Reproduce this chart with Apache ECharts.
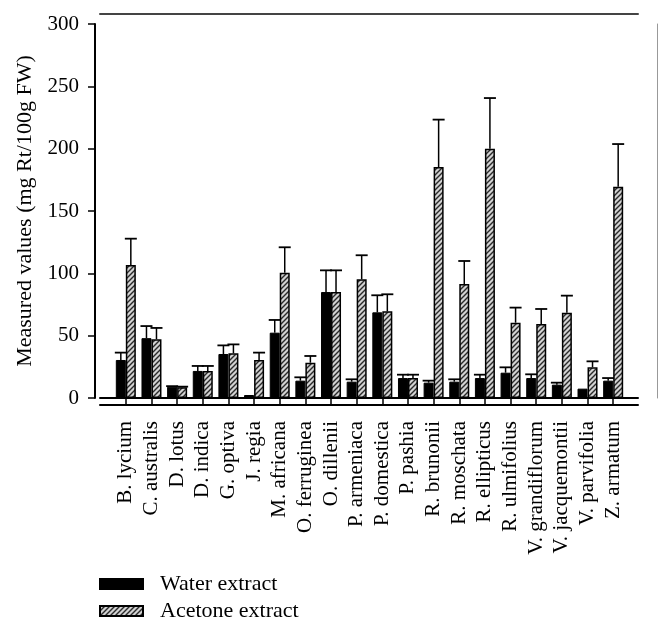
<!DOCTYPE html>
<html>
<head>
<meta charset="utf-8">
<script src="https://cdn.jsdelivr.net/npm/echarts@6/dist/echarts.min.js"></script>
<style>html,body{margin:0;padding:0;background:#fff;}#chart{width:672px;height:631px;}</style>
</head>
<body>
<div id="chart"></div>
<script>
const categories = ['B. lycium','C. australis','D. lotus','D. indica','G. optiva','J. regia','M. africana','O. ferruginea','O. dillenii','P. armeniaca','P. domestica','P. pashia','R. brunonii','R. moschata','R. ellipticus','R. ulmifolius','V. grandiflorum','V. jacquemontii','V. parvifolia','Z. armatum'];
const waterValues = [30.5, 48, 9, 21.7, 35.3, 2.4, 52.4, 13.9, 85, 13.1, 68.7, 16, 12.3, 13.1, 16, 20.3, 16, 10.7, 7.5, 13.9];
const waterErrors = [5.9, 9.7, 0.5, 4, 6.9, 0, 10.2, 2.7, 17.4, 1.9, 13.7, 2.7, 1.6, 1.9, 2.7, 4.3, 3, 1.6, 0, 2.1];
const acetoneValues = [106.7, 47.1, 8.6, 21.7, 35.8, 30.5, 100.5, 28.3, 85, 95.2, 69.5, 16, 185.3, 91.4, 200, 60.4, 59.4, 68.4, 24.6, 169.5];
const acetoneErrors = [21.1, 9.1, 0.5, 4, 7.2, 5.9, 20.4, 5.4, 17.4, 19.3, 13.7, 2.7, 38, 18.5, 40.6, 12.1, 12, 13.7, 4.8, 34.2];
const yTicks = [0, 50, 100, 150, 200, 250, 300];

const FONT = '"Liberation Serif", "DejaVu Serif", serif';

// hatch pattern
const tile = document.createElement('canvas');
tile.width = 5; tile.height = 5;
const tc = tile.getContext('2d');
tc.fillStyle = '#d2d2d2';
tc.fillRect(0, 0, 5, 5);
tc.strokeStyle = '#2a2a2a';
tc.lineWidth = 1.4;
tc.beginPath();
tc.moveTo(-1, 1); tc.lineTo(1, -1);
tc.moveTo(0, 5); tc.lineTo(5, 0);
tc.moveTo(4, 6); tc.lineTo(6, 4);
tc.stroke();
const hatch = { image: tile, repeat: 'repeat' };

function errData(vals, errs) {
  return vals.map((v, i) => [i, v, errs[i]]);
}
function makeErrRender(side) {
  return function (params, api) {
    const idx = api.value(0), v = api.value(1), e = api.value(2);
    if (!e) return null;
    const band = api.size([1, 0])[0];
    const barW = band * 0.39;
    const base = api.coord([idx, v]);
    const top = api.coord([idx, v + e]);
    const x = base[0] + side * barW / 2;
    const half = barW / 2 + 1;
    return {
      type: 'group',
      children: [
        { type: 'line', shape: { x1: x, y1: base[1], x2: x, y2: top[1] }, style: { stroke: '#000', lineWidth: 1.5 } },
        { type: 'line', shape: { x1: x - half, y1: top[1], x2: x + half, y2: top[1] }, style: { stroke: '#000', lineWidth: 1.8 } }
      ]
    };
  };
}

const chart = echarts.init(document.getElementById('chart'), null, { renderer: 'canvas' });
chart.setOption({
  animation: false,
  backgroundColor: '#fff',
  grid: [
    { left: 113, right: 46, top: 24, bottom: 233, containLabel: false, outerBoundsMode: 'none' },
    { left: 100, right: 34, top: 14, bottom: 233, containLabel: false, outerBoundsMode: 'none' }
  ],
  legend: {
    data: ['Water extract', 'Acetone extract'],
    orient: 'vertical',
    left: 94,
    top: 568,
    itemWidth: 43,
    itemHeight: 10,
    itemGap: 5,
    icon: 'rect',
    selectedMode: false,
    textStyle: { fontFamily: FONT, fontSize: 22, color: '#000', padding: [0, 0, 0, 12] }
  },
  xAxis: [
    {
      type: 'category', gridIndex: 0, data: categories, offset: 7,
      axisLine: { show: false },
      axisTick: { show: true, alignWithLabel: true, interval: 0, length: 6, lineStyle: { color: '#000', width: 1.5 } },
      axisLabel: { interval: 0, rotate: 90, margin: 16, fontFamily: FONT, fontSize: 21, color: '#000' },
      splitLine: { show: false }
    },
    {
      type: 'value', gridIndex: 1, min: 0, max: 1, position: 'bottom',
      axisLine: { show: true, lineStyle: { color: '#000', width: 2 } },
      axisTick: { show: false }, axisLabel: { show: false }, splitLine: { show: false }
    },
    {
      type: 'value', gridIndex: 1, min: 0, max: 1, position: 'bottom', offset: 7,
      axisLine: { show: true, lineStyle: { color: '#000', width: 2 } },
      axisTick: { show: false }, axisLabel: { show: false }, splitLine: { show: false }
    },
    {
      type: 'value', gridIndex: 1, min: 0, max: 1, position: 'top',
      axisLine: { show: true, lineStyle: { color: '#444', width: 2 } },
      axisTick: { show: false }, axisLabel: { show: false }, splitLine: { show: false }
    }
  ],
  yAxis: [
    {
      type: 'value', gridIndex: 0, min: 0, max: 300, interval: 50, offset: 18,
      name: 'Measured values (mg Rt/100g FW)', nameLocation: 'middle', nameGap: 58,
      nameTextStyle: { fontFamily: FONT, fontSize: 22, color: '#000' },
      axisLine: { show: true, lineStyle: { color: '#000', width: 2 } },
      axisTick: { show: true, length: 7, lineStyle: { color: '#000', width: 1.5 } },
      axisLabel: { margin: 16, fontFamily: FONT, fontSize: 21, color: '#000',
        formatter: v => yTicks.indexOf(v) >= 0 ? String(v) : '' },
      splitLine: { show: false }
    },
    {
      type: 'value', gridIndex: 0, min: 0, max: 300, position: 'right', offset: 31,
      axisLine: { show: true, lineStyle: { color: '#999', width: 1 } },
      axisTick: { show: false }, axisLabel: { show: false }, splitLine: { show: false }
    },
    {
      type: 'value', gridIndex: 1, min: 0, max: 1, show: false
    }
  ],
  series: [
    {
      name: 'Water extract', type: 'bar', xAxisIndex: 0, yAxisIndex: 0,
      data: waterValues, barGap: '0%', barCategoryGap: '22%',
      itemStyle: { color: '#000', borderColor: '#000', borderWidth: 1 }
    },
    {
      name: 'Acetone extract', type: 'bar', xAxisIndex: 0, yAxisIndex: 0,
      data: acetoneValues, barGap: '0%', barCategoryGap: '22%',
      itemStyle: { color: hatch, borderColor: '#000', borderWidth: 1.5 }
    },
    {
      name: 'errWater', type: 'custom', xAxisIndex: 0, yAxisIndex: 0,
      data: errData(waterValues, waterErrors), encode: { x: 0, y: 1 },
      renderItem: makeErrRender(-1), z: 3
    },
    {
      name: 'errAcetone', type: 'custom', xAxisIndex: 0, yAxisIndex: 0,
      data: errData(acetoneValues, acetoneErrors), encode: { x: 0, y: 1 },
      renderItem: makeErrRender(1), z: 3
    }
  ]
});
</script>
</body>
</html>
